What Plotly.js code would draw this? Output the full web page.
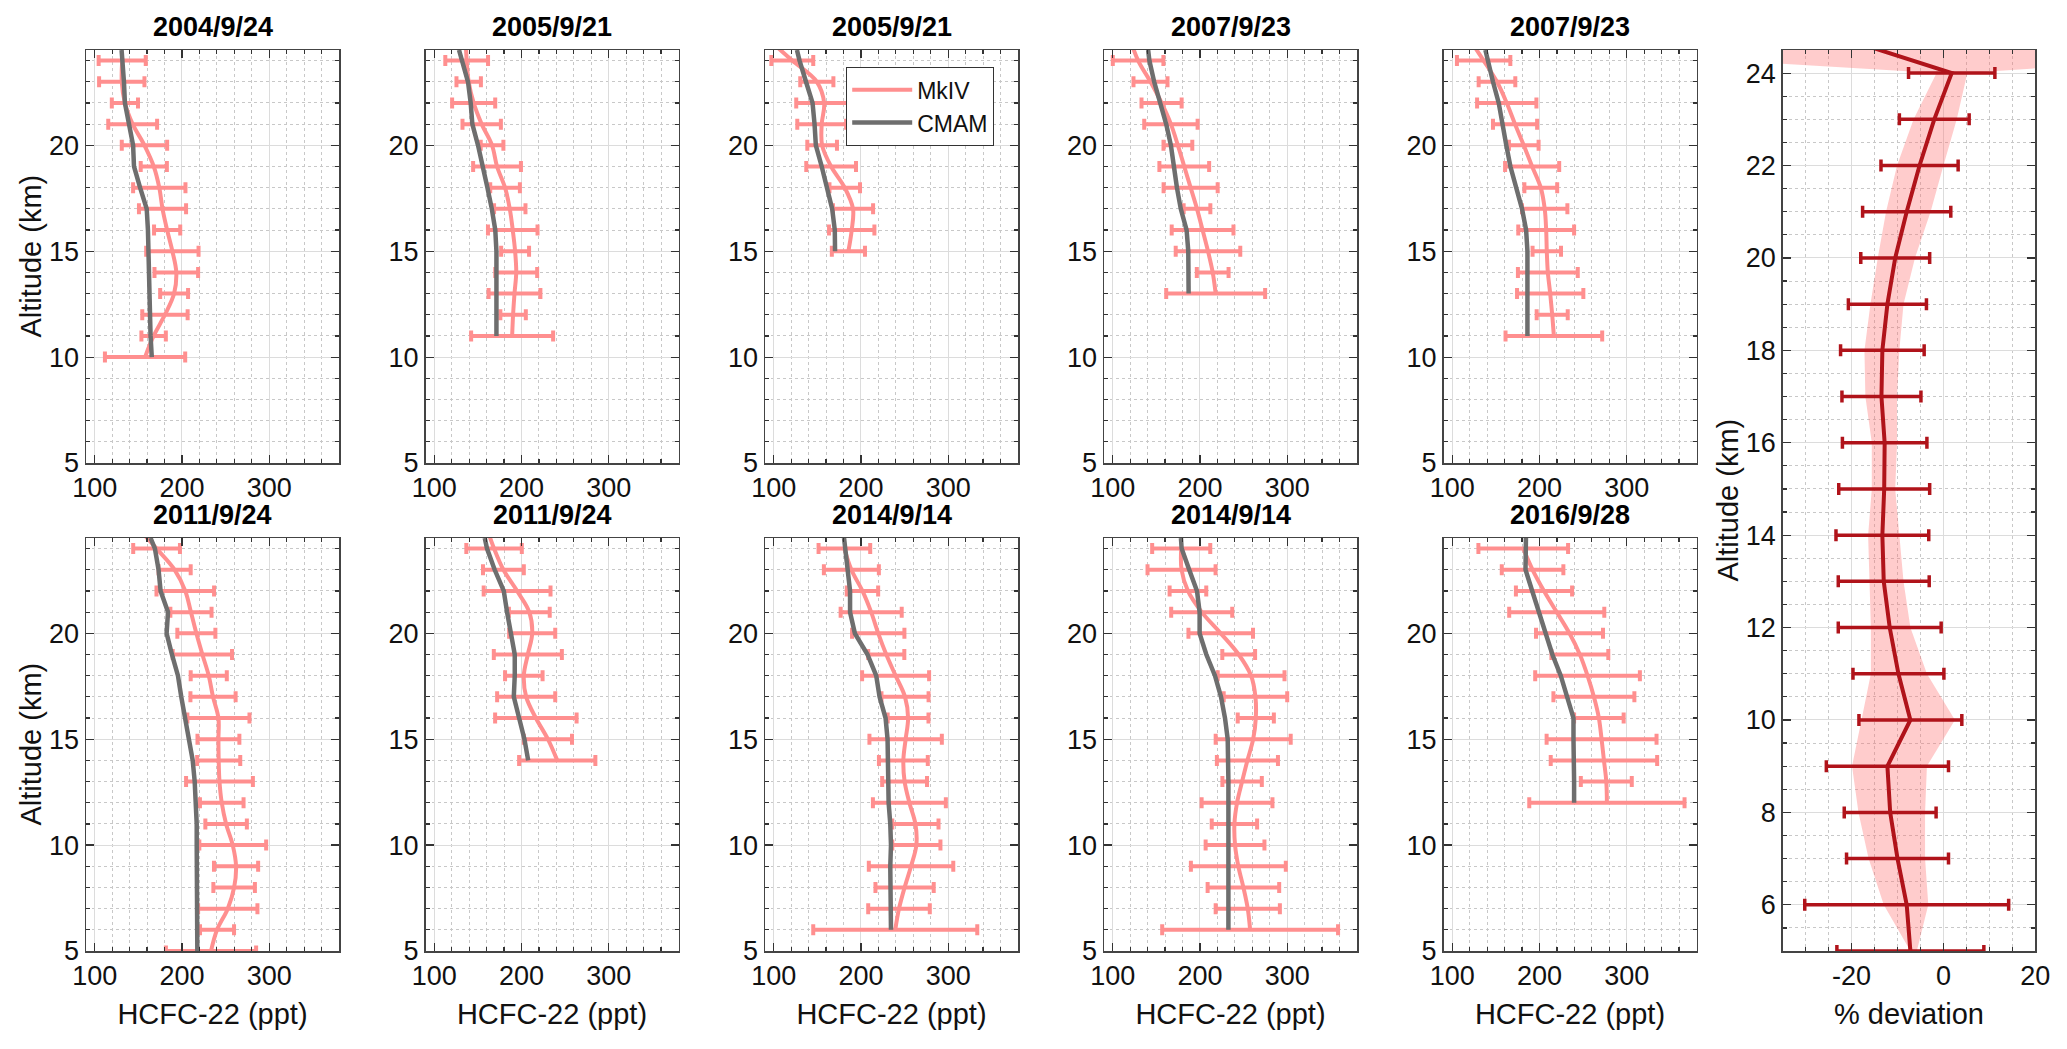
<!DOCTYPE html>
<html><head><meta charset="utf-8">
<script src="https://cdn.plot.ly/plotly-3.0.1.min.js"></script>
<style>html,body{margin:0;padding:0;background:#fff;overflow:hidden}#chart{width:2067px;height:1049px}</style>
</head><body><div id="chart"></div>
<script>
// ---------------- DATA ----------------
const panelTitles = ['2004/9/24','2005/9/21','2005/9/21','2007/9/23','2007/9/23',
                     '2011/9/24','2011/9/24','2014/9/14','2014/9/14','2016/9/28'];
const seriesNames = ['MkIV','CMAM'];
const xTickLabels = ['100','200','300'];
const xTickValues = [100,200,300];
const devTickValues = [-20,0,20];
const devTickLabels = ['-20','0','20'];
const yTitle = 'Altitude (km)';
const xTitle = 'HCFC-22 (ppt)';
const devTitle = '% deviation';

// Panel 1 – 2004/9/24
const p1MkAlt = [24,23,22,21,20,19,18,17,16,15,14,13,12,11,10];
const p1MkVal = [131.5,131,134.6,143.5,157,167.7,174,177.7,183,189,193.5,191,180.5,167.5,157.7];
const p1MkErr = [27,26,15,28,26,15,30,27,15,30,25,16,26,14,46];
const p1CmAlt = [24.5,24,23,22,21,20,19.5,19,18,17,16,15,14,13,12,11,10];
const p1CmVal = [130.8,132,133.5,134.6,139.6,144,144.5,145,152,159.6,161,161.5,162,162.7,163.5,164,165.4];
// Panel 2 – 2005/9/21
const p2MkAlt = [25,24,23,22,21,20,19,18,17,16,15,14,13,12,11];
const p2MkVal = [136,137.2,139.5,145.2,154.4,166.3,172,181.2,186.6,190,192.7,194,192,190.4,189.3];
const p2MkErr = [24,24.5,14,24.7,22,13,27.4,17,18,28.4,16,24,29.7,14.6,47];
const p2CmAlt = [24.5,24,23,22,21,20,19,18,17,16,15,14,13,12,11];
const p2CmVal = [128.4,131.8,138.7,141.8,143.7,150.2,156,161,166,170,171.3,171.3,171.3,171.3,171.3];
// Panel 3 – 2005/9/21
const p3MkAlt = [25,24,23,22,21,20,19,18,17,16,15];
const p3MkVal = [94,121.3,149.4,157.8,155,155.5,165.8,181.4,190.9,189.4,185.6];
const p3MkErr = [24,24,19,32,28,17,28.5,17.5,23,26,19];
const p3CmAlt = [24.5,24,23,22,21,20,19,18,17,16,15];
const p3CmVal = [126.6,129.6,137,144.5,146.8,148.3,155,161.6,167,170,170.3];
// Panel 4 – 2007/9/23
const p4MkAlt = [25,24,23,22,21,20,19,18,17,16,15,14,13];
const p4MkVal = [120,129.1,143.3,156,166.7,174.7,182,189.3,196.6,203,209.2,214.6,218];
const p4MkErr = [29,29,19.5,23,30.6,16.5,28.5,31,15.3,35.4,37,18.2,56.7];
const p4CmAlt = [24.5,24,23,22,21,20,19,18,17,16,15,14,13];
const p4CmVal = [140.6,142,147.5,155,161.3,166.7,169.7,173.6,178,184.7,186.6,187,187];
// Panel 5 – 2007/9/23
const p5MkAlt = [25,24,23,22,21,20,19,18,17,16,15,14,13,12,11];
const p5MkVal = [120,136,151.3,162.5,172,182,191.6,201.5,206,207.7,208.4,209.6,212.3,214.6,216.5];
const p5MkErr = [30,30.6,21,34,25.3,17,31,18.8,26,32,16.3,34.3,38,17.8,55.4];
const p5CmAlt = [24.5,24,23,22,21,20,19,18,17,16,15,14,13,12,11];
const p5CmVal = [138,140.6,146.7,153.3,158.2,162,166.7,173.6,180,184.7,186.2,186.2,186.2,186.2,186.2];
// Panel 6 – 2011/9/24
const p6MkAlt = [25,24,23,22,21,20,19,18,17,16,15,14,13,12,11,10,9,8,7,6,5];
const p6MkVal = [149,170.9,191.6,203.8,210.3,216.5,223.4,230.7,235.6,241.8,241.8,242.1,243,245.6,250.6,258.2,262,259.8,252.5,240.2,233.3];
const p6MkErr = [27,26.8,18.4,33,23.6,21.8,34,20.7,25.9,35.6,24,24.7,38.3,25,23.8,38.3,25.3,23.8,34,19.5,51.7];
const p6CmAlt = [24.5,24,23,22,21,20.5,20,19,18,17,16,15,14,13,12,11,10,9,8,7,6,5];
const p6CmVal = [164,169,173.2,175.5,184,183,182.4,188.5,195.4,199.2,203.4,208.4,212.3,214.6,216.1,216.9,216.9,216.9,216.9,216.5,216.9,217.6];
// Panel 7 – 2011/9/24
const p7MkAlt = [25,24,23,22,21,20,19,18,17,16,15,14];
const p7MkVal = [160,168.6,179.3,195,209,212.3,207.3,202.7,205.4,216.5,230.3,241];
const p7MkErr = [32,31.8,23.4,38.3,23.4,26.4,39,21.5,33.3,46.7,27.6,43.7];
const p7CmAlt = [24.5,24,23,22,21,20,19,18,17,16,15,14];
const p7CmVal = [157.9,160.5,169.3,179.7,183.5,187.4,192.3,192.3,191.2,197.3,203.4,207.7];
// Panel 8 – 2014/9/14
const p8MkAlt = [24,23,22,21,20,19,18,17,16,15,14,13,12,11,10,9,8,7,6];
const p8MkVal = [181,189,201.7,211.7,219.8,229,239.7,250.5,254,251.2,248.6,250,255.5,262.4,263.5,257.4,250,243.6,239.3];
const p8MkErr = [29.6,31.5,18,35,30,20.7,38.4,27,23.4,41.5,28,25.7,41.8,26.5,27.6,48.4,33.4,35.3,94];
const p8CmAlt = [24.5,24,23,22,21,20,19,18,17,16,15,14,13,12,11,10,9,8,7,6];
const p8CmVal = [180.6,182,185.6,187.5,187.5,193,207.5,217.5,221.3,228.2,230.5,230.5,231,231.7,233.6,234.4,233.6,233.6,233.6,234.4];
// Panel 9 – 2014/9/14
const p9MkAlt = [24,23,22,21,20,19,18,17,16,15,14,13,12,11,10,9,8,7,6];
const p9MkVal = [178.5,178.9,186.2,202,223.8,244.4,258.6,263.6,264,261,254.4,248.3,242.5,239.5,240.2,244,249.8,254.8,257.5];
const p9MkErr = [33.3,39,21,35,37,18.8,38.3,36.4,20.7,43,35,22.6,40.6,26,33.7,54.4,41,36.8,100.8];
const p9CmAlt = [24.5,24,23,22,21,20,19,18,17,16,15,14,13,12,11,10,9,8,7,6];
const p9CmVal = [178.2,179,187.7,196.6,199.6,199.6,207.3,217.2,224.1,228.7,231.8,232.6,232.6,232.6,232.6,232.6,232.6,232.6,232.6,232.6];
// Panel 10 – 2016/9/28
const p10MkAlt = [24,23,22,21,20,19,18,17,16,15,14,13,12];
const p10MkVal = [181.4,192.1,205.2,219.8,234.4,246.3,255.1,262.4,268.1,271.2,273.9,276.6,277.3];
const p10MkErr = [51.4,35.3,32.2,54.5,38.4,32.6,60,46.4,28.4,63,61,29.2,89];
const p10CmAlt = [24.5,24,23,22,21,20,19,18,17,16,15,14,13,12];
const p10CmVal = [184.5,184,184,191.7,199.4,207.1,214.8,224.4,232,239,239,239.7,239.7,239.7];

// Right panel – % deviation
const devAlt = [25,24,23,22,21,20,19,18,17,16,15,14,13,12,11,10,9,8,7,6,5];
const devVal = [-29.6,1.8,-2.0,-5.2,-8.0,-10.5,-12.2,-13.3,-13.5,-12.8,-12.9,-13.3,-13.0,-11.7,-9.8,-7.2,-12.2,-11.6,-10.0,-8.0,-7.2];
const devErr = [10,9.4,7.6,8.4,9.6,7.5,8.5,9.1,8.6,9.2,9.9,10.1,9.9,11.2,9.9,11.2,13.3,10.0,11.1,22.2,16.0];
const bandLow  = [-170,-1.5,-6.5,-10.1,-12.5,-14.3,-15.9,-17.2,-17.0,-15.6,-15.6,-16.4,-16.1,-15.8,-15.8,-17.8,-19.9,-18.5,-16.3,-13.0,-7.2];
const bandHigh = [150,5.2,2.9,0,-2.8,-6.2,-8.7,-9.6,-10.1,-10.1,-10.5,-9.6,-8.7,-7.2,-3.6,2.5,-3.6,-4.0,-4.0,-3.3,-5.8];

const panels = [
  [p1MkAlt,p1MkVal,p1MkErr,p1CmAlt,p1CmVal],
  [p2MkAlt,p2MkVal,p2MkErr,p2CmAlt,p2CmVal],
  [p3MkAlt,p3MkVal,p3MkErr,p3CmAlt,p3CmVal],
  [p4MkAlt,p4MkVal,p4MkErr,p4CmAlt,p4CmVal],
  [p5MkAlt,p5MkVal,p5MkErr,p5CmAlt,p5CmVal],
  [p6MkAlt,p6MkVal,p6MkErr,p6CmAlt,p6CmVal],
  [p7MkAlt,p7MkVal,p7MkErr,p7CmAlt,p7CmVal],
  [p8MkAlt,p8MkVal,p8MkErr,p8CmAlt,p8CmVal],
  [p9MkAlt,p9MkVal,p9MkErr,p9CmAlt,p9CmVal],
  [p10MkAlt,p10MkVal,p10MkErr,p10CmAlt,p10CmVal]
];

// ---------------- LAYOUT / STYLE ----------------
const W = 2067, H = 1049;
const FONT = 'Liberation Sans, Arial, sans-serif';
const MK_COLOR = '#ff8f8f', CM_COLOR = '#6e6e6e', DEV_COLOR = '#b0131a';
const colLeft = [86, 425.5, 765, 1104, 1443.5], colW = 253;
const rowTop = [50, 538], rowH = 413;
const rightBox = [1782.7, 2035.3, 50, 951];

function px2x(p){return p/W;}
function px2y(p){return 1 - p/H;}

const baseAxis = {
  showline:true, linecolor:'#444', linewidth:1.5, mirror:'allticks',
  ticks:'inside', ticklen:8, tickwidth:1.2, tickcolor:'#333',
  showgrid:true, gridcolor:'#dcdcdc', gridwidth:1, zeroline:false,
  tickfont:{family:FONT, size:27, color:'#111'}, fixedrange:true
};
const titleFont = {family:FONT, size:29, color:'#111'};

const data = [];
const layout = {
  width:W, height:H, margin:{l:0,r:0,t:0,b:0}, paper_bgcolor:'#fff', plot_bgcolor:'#fff',
  showlegend:true, hovermode:false,
  legend:{x:px2x(846), y:px2y(67), xanchor:'left', yanchor:'top', bgcolor:'#fff',
          bordercolor:'#333', borderwidth:1.2, font:{family:FONT, size:23, color:'#111'},
          itemwidth:60, tracegroupgap:0},
  annotations:[]
};

function yTitleAnnotation(xpx, ytop, ybot){
  return {text:yTitle, xref:'paper', yref:'paper', x:px2x(xpx), y:px2y((ytop + ybot) / 2),
          xanchor:'center', yanchor:'middle', textangle:-90, showarrow:false, font:titleFont};
}

panels.forEach((p, i) => {
  const n = i + 1;
  const row = i < 5 ? 0 : 1, col = i % 5;
  const xk = n === 1 ? 'xaxis' : 'xaxis' + n;
  const yk = n === 1 ? 'yaxis' : 'yaxis' + n;
  const xr = n === 1 ? 'x' : 'x' + n, yr = n === 1 ? 'y' : 'y' + n;
  const x0 = colLeft[col], x1 = x0 + colW, y0 = rowTop[row], y1 = y0 + rowH;
  layout[xk] = Object.assign({}, baseAxis, {
    domain:[px2x(x0), px2x(x1)], anchor:yr, range:[90,380],
    tickmode:'array', tickvals:xTickValues, ticktext:xTickLabels,
    minor:{tickmode:'linear', tick0:100, dtick:20, ticks:'inside', ticklen:4, tickcolor:'#333',
           showgrid:true, gridcolor:'#c8c8c8', griddash:'dot', gridwidth:1},
    title: row === 1 ? {text:xTitle, font:titleFont, standoff:14} : undefined
  });
  layout[yk] = Object.assign({}, baseAxis, {
    domain:[px2y(y1), px2y(y0)], anchor:xr, range:[5,24.5], tick0:5, dtick:5,
    minor:{tick0:5, dtick:1, ticks:'inside', ticklen:4, tickcolor:'#333',
           showgrid:true, gridcolor:'#c8c8c8', griddash:'dot', gridwidth:1}
  });
  if (col === 0) layout.annotations.push(yTitleAnnotation(30, y0, y1));
  layout.annotations.push({
    text:'<b>' + panelTitles[i] + '</b>', xref:'paper', yref:'paper',
    x:px2x((x0 + x1) / 2), y:px2y(y0), xanchor:'center', yanchor:'bottom', yshift:6,
    showarrow:false, font:{family:FONT, size:27, color:'#000'}
  });
  data.push({
    type:'scatter', mode:'lines', x:p[1], y:p[0], xaxis:xr, yaxis:yr,
    name:seriesNames[0], showlegend:i === 2, legendrank:1,
    line:{color:MK_COLOR, width:4, shape:'spline', smoothing:1},
    error_x:{type:'data', array:p[2], visible:true, color:MK_COLOR, thickness:4, width:5.5}
  });
  data.push({
    type:'scatter', mode:'lines', x:p[4], y:p[3], xaxis:xr, yaxis:yr,
    name:seriesNames[1], showlegend:i === 2, legendrank:2,
    line:{color:CM_COLOR, width:4.5}
  });
});

// Right panel
layout.xaxis11 = Object.assign({}, baseAxis, {
  domain:[px2x(rightBox[0]), px2x(rightBox[1])], anchor:'y11', range:[-35,20],
  tickmode:'array', tickvals:devTickValues, ticktext:devTickLabels,
  minor:{tickmode:'linear', tick0:0, dtick:5, ticks:'inside', ticklen:4, tickcolor:'#333',
         showgrid:true, gridcolor:'#c8c8c8', griddash:'dot', gridwidth:1},
  title:{text:devTitle, font:titleFont, standoff:14}
});
layout.yaxis11 = Object.assign({}, baseAxis, {
  domain:[px2y(rightBox[3]), px2y(rightBox[2])], anchor:'x11', range:[5,24.5], tick0:4, dtick:2,
  minor:{tick0:5, dtick:0.5, ticks:'inside', ticklen:4, tickcolor:'#333',
         showgrid:true, gridcolor:'#c8c8c8', griddash:'dot', gridwidth:1}
});
layout.annotations.push(yTitleAnnotation(1728, rightBox[2], rightBox[3]));

data.push({
  type:'scatter', mode:'lines', xaxis:'x11', yaxis:'y11', showlegend:false,
  x:bandLow.concat(bandHigh.slice().reverse()),
  y:devAlt.concat(devAlt.slice().reverse()),
  fill:'toself', fillcolor:'rgba(255,110,110,0.35)', line:{width:0, color:'rgba(0,0,0,0)'}
});
data.push({
  type:'scatter', mode:'lines', xaxis:'x11', yaxis:'y11', showlegend:false,
  x:devVal, y:devAlt, line:{color:DEV_COLOR, width:4},
  error_x:{type:'data', array:devErr, visible:true, color:DEV_COLOR, thickness:3.5, width:6}
});

Plotly.newPlot('chart', data, layout, {staticPlot:true, displayModeBar:false});
</script></body></html>
